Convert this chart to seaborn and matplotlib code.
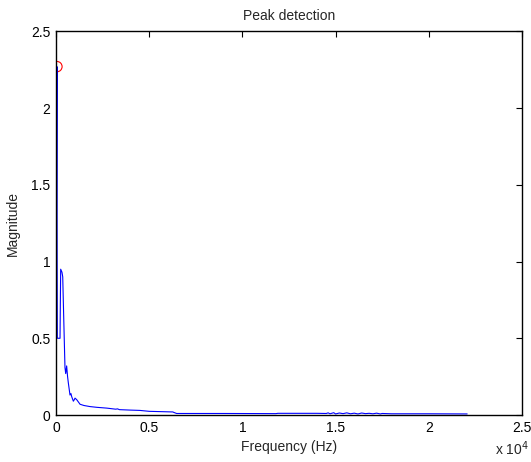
import numpy as np
import pandas as pd
import seaborn as sns
import matplotlib.pyplot as plt
from matplotlib.ticker import FuncFormatter
plt.switch_backend('agg')

# spectrum (Hz, magnitude)
freq = [0, 20, 50, 60, 70, 215, 230, 250, 320, 360, 420, 480, 520, 570, 620, 660,
        750, 800, 840, 930, 980, 1020, 1110, 1200, 1290, 1500, 1820, 2200, 2720,
        3200, 3300, 3400, 4000, 4500, 5000, 6270, 6300, 6470, 9000, 11800, 11900,
        14000, 14500, 14600, 14700, 14900, 15000, 15200, 15400, 15600, 15800,
        16000, 16200, 16400, 16600, 16800, 17000, 17200, 17400, 17500, 18000,
        20000, 22060]
magnitude = [0.05, 1.2, 2.27, 1.0, 0.5, 0.5, 0.7, 0.95, 0.93, 0.9, 0.6, 0.31, 0.27,
             0.32, 0.25, 0.21, 0.13, 0.14, 0.12, 0.09, 0.1, 0.11, 0.1, 0.085, 0.07,
             0.062, 0.055, 0.05, 0.045, 0.038, 0.04, 0.035, 0.032, 0.03, 0.024,
             0.02, 0.018, 0.01, 0.01, 0.009, 0.011, 0.011, 0.01, 0.014, 0.008,
             0.015, 0.007, 0.013, 0.009, 0.014, 0.008, 0.012, 0.007, 0.013, 0.009,
             0.011, 0.008, 0.012, 0.007, 0.01, 0.008, 0.008, 0.007]
peak_freq = [50]
peak_mag = [2.27]

df = pd.DataFrame({'Frequency': freq, 'Magnitude': magnitude})
df_peak = pd.DataFrame({'Frequency': peak_freq, 'Magnitude': peak_mag})

sns.set_style('white')
plt.rcParams['font.family'] = ['Liberation Sans', 'DejaVu Sans']
plt.rcParams['font.size'] = 10

fig = plt.figure(figsize=(5.31, 4.62), dpi=100)
ax = fig.add_axes([0.1055, 0.1017, 0.8775, 0.8305])

sns.lineplot(data=df, x='Frequency', y='Magnitude', sort=False, estimator=None,
             color='#0000ff', linewidth=0.8, ax=ax)
sns.scatterplot(data=df_peak, x='Frequency', y='Magnitude', s=55, marker='o',
                facecolors='none', edgecolor='red', linewidth=0.8, ax=ax)

ax.set_xlim(0, 25000)
ax.set_ylim(0, 2.5)
ax.set_xticks([0, 5000, 10000, 15000, 20000, 25000])
ax.set_yticks([0, 0.5, 1, 1.5, 2, 2.5])
ax.xaxis.set_major_formatter(FuncFormatter(lambda v, p: '%g' % (v / 1e4)))
ax.yaxis.set_major_formatter(FuncFormatter(lambda v, p: '%g' % v))
ax.tick_params(direction='in', length=4, width=0.8, top=True, right=True,
               labelsize=10, colors='black', pad=4)
for s in ax.spines.values():
    s.set_color('black')
    s.set_linewidth(1.0)

ax.set_xlabel('Frequency (Hz)', fontsize=10, labelpad=4)
ax.set_ylabel('Magnitude', fontsize=10, labelpad=8)
ax.set_title('Peak detection', fontsize=10, pad=8)
fig.text(0.932, 0.008, r'x 10$^{4}$', fontsize=10, ha='left', va='bottom')

fig.savefig('out.png', dpi=100)
